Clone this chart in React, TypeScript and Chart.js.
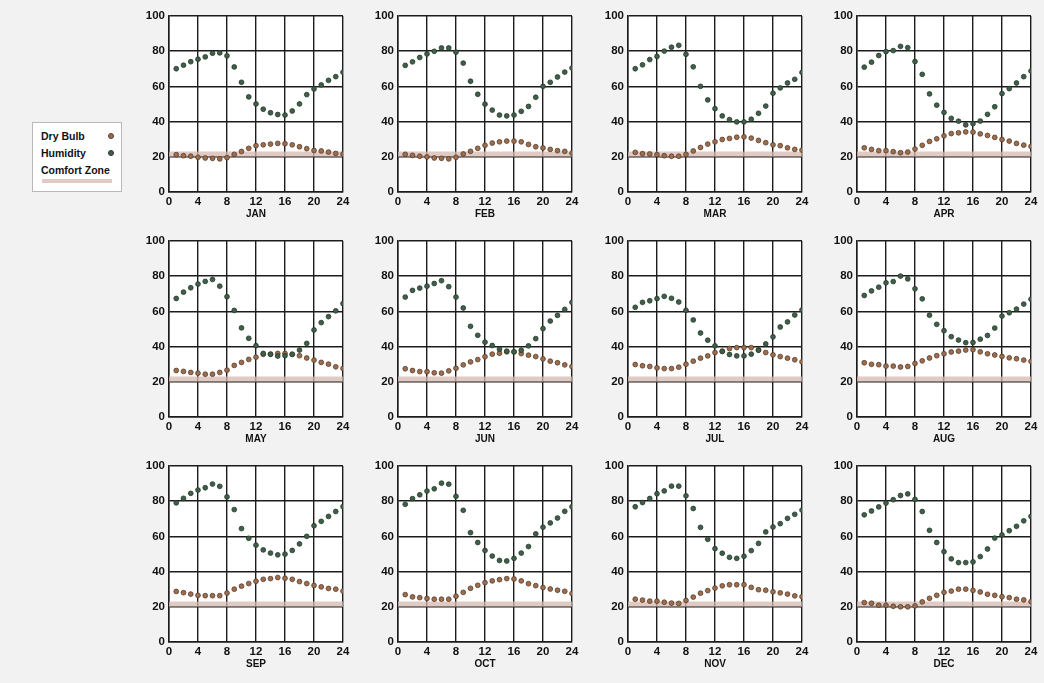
import React, { useEffect, useRef } from "react";
import { Chart, registerables } from "chart.js";

Chart.register(...registerables);

// ---------- data ----------
const HOURS = [1, 2, 3, 4, 5, 6, 7, 8, 9, 10, 11, 12, 13, 14, 15, 16, 17, 18, 19, 20, 21, 22, 23, 24];
const X_TICKS = [0, 4, 8, 12, 16, 20, 24];
const Y_TICKS = [0, 20, 40, 60, 80, 100];
const COMFORT_LOW = 20;
const COMFORT_HIGH = 23;

const janHumidity = [70, 72, 74, 75.4, 76.7, 78.8, 79, 77.3, 71, 62.3, 54, 50, 47, 45, 44, 43.7, 46, 50, 55.3, 58.5, 60.8, 63.4, 65.5, 68];
const janDryBulb = [21.2, 20.6, 20.3, 19.7, 19.3, 19.1, 18.8, 19.5, 21.4, 23, 24.8, 26.3, 26.8, 27.2, 27.6, 27.4, 26.8, 25.7, 24.6, 23.6, 23.3, 22.7, 21.9, 21.6];

const febHumidity = [71.9, 73.9, 76.4, 78.4, 79.9, 81.8, 81.8, 79.4, 73.2, 62.9, 55.5, 49.9, 46.5, 43.7, 43.2, 43.7, 45.8, 48.6, 53.8, 60, 62.3, 65.3, 68.1, 70.4];
const febDryBulb = [21.4, 20.8, 20.3, 19.9, 19.3, 19.1, 18.8, 19.7, 21.6, 23.1, 24.8, 26.5, 27.8, 28.5, 28.9, 28.9, 28.5, 27, 25.7, 25, 24.2, 23.5, 23.1, 22.1];

const marHumidity = [70, 72.2, 75.2, 77, 80, 82.2, 83.3, 78.2, 71.1, 60, 52.3, 47.3, 43.2, 41.1, 39.8, 39.8, 41.3, 44.7, 48.8, 56.1, 59.1, 61.9, 64, 67.9];
const marDryBulb = [22.5, 21.8, 21.6, 21.2, 20.6, 20.3, 20.3, 21.4, 23.3, 25.3, 27.2, 28.5, 29.8, 30.4, 31.1, 31.3, 30.6, 29.3, 28, 26.8, 26.3, 25.1, 24.2, 23.8];

const aprHumidity = [70.9, 73.7, 77.5, 79.7, 80.3, 82.7, 82, 74.1, 66.8, 55.7, 49.3, 45.2, 41.8, 40.2, 38.1, 38.8, 40.3, 44.1, 48.4, 55.9, 58.7, 61.9, 65.5, 68.7];
const aprDryBulb = [25.1, 24.2, 23.5, 23.5, 22.9, 22.3, 22.7, 24.4, 26.5, 28.7, 30.2, 31.9, 33.2, 33.6, 34.1, 34, 33, 32.1, 31, 29.8, 28.9, 27.6, 26.6, 25.9];

const mayHumidity = [67.3, 70.9, 73.4, 75.5, 77, 78.1, 74.3, 68.3, 60.5, 50.6, 44.7, 40.5, 36.1, 35.6, 34.6, 34.8, 35.6, 38, 41.8, 49.4, 53.6, 57, 60.3, 64.4];
const mayDryBulb = [26.4, 25.9, 25.3, 24.9, 24.3, 24.3, 25.3, 26.6, 29.3, 31, 32.7, 34, 35.6, 35.7, 36.1, 36.1, 35.6, 34.8, 33.5, 32.3, 31, 30, 28.5, 27.6];

const junHumidity = [68.1, 71.9, 73.2, 74.3, 75.8, 77.4, 74, 68.1, 61.9, 51.5, 46.4, 42.5, 40.6, 38.5, 37.4, 37, 37.9, 40.4, 44.5, 50.2, 54.5, 57.7, 61.1, 65.1];
const junDryBulb = [27.4, 26.4, 25.8, 25.7, 25.1, 24.9, 26.2, 27.7, 29.6, 31.3, 32.6, 34.2, 35.7, 36.2, 37, 37, 36, 35.1, 34.3, 33, 31.7, 30.8, 29.6, 28.7];

const julHumidity = [62.3, 65.1, 66, 67.2, 68.5, 67.4, 65.3, 60.6, 55.1, 47.7, 43.6, 40.4, 37.2, 35.5, 34.7, 34.7, 35.7, 37.9, 41.5, 45.5, 51.1, 54, 57.9, 60.8];
const julDryBulb = [29.8, 29.1, 28.7, 27.9, 27.5, 27.5, 28.3, 30, 31.7, 33.4, 34.7, 36.6, 37.4, 38.9, 39.4, 39.4, 39.4, 38.1, 36.6, 35.3, 34.3, 33.4, 32.5, 31.3];

const augHumidity = [69, 71.6, 73.7, 76.2, 76.9, 80, 78.4, 72.8, 67.1, 57.8, 52.6, 49, 45.6, 43.7, 42.2, 42.3, 44.2, 46.3, 50.5, 57.3, 59.2, 61.3, 64.1, 66.9];
const augDryBulb = [30.8, 29.9, 29.7, 28.9, 28.9, 28.4, 28.7, 30.4, 31.9, 33.5, 34.8, 35.9, 36.9, 37.4, 38, 38.2, 37, 35.9, 35.2, 34.4, 33.6, 33.1, 32.3, 31.6];

const sepHumidity = [79, 81.6, 84.4, 86.3, 87.6, 89.7, 88.4, 82.4, 75.2, 64.4, 58.9, 55, 52.3, 50.5, 49.5, 49.9, 52, 55.7, 60, 66, 68.5, 71.3, 74.1, 76.9];
const sepDryBulb = [28.7, 28, 27.2, 26.5, 26.3, 26.3, 26.3, 27.8, 30, 31.7, 33.2, 34.5, 35.6, 36, 36.6, 36.2, 35.6, 34.3, 33.2, 32.1, 31.3, 30.4, 30, 28.9];

const octHumidity = [78.2, 81.4, 83.6, 85.7, 87, 90.2, 89.6, 82.7, 74.8, 62.1, 56.5, 52, 48.8, 46.3, 46, 47.5, 50.5, 54.2, 61.4, 65.2, 67.6, 70.4, 74.2, 76.8];
const octDryBulb = [26.9, 25.6, 25.2, 24.7, 24.3, 24.3, 24.3, 26, 28.2, 30.5, 32.2, 33.7, 34.7, 35.4, 36, 35.8, 34.7, 33.1, 32, 30.9, 30.1, 29.4, 28.8, 27.5];

const novHumidity = [76.8, 79.2, 81.5, 84.2, 85.8, 88.5, 88.5, 83, 75.8, 65.1, 58.3, 53, 50.4, 48.1, 47.5, 48.7, 51.9, 56, 62.5, 65.3, 67.2, 70.2, 72.5, 74.9];
const novDryBulb = [24.3, 23.8, 23.2, 23.2, 22.6, 22.1, 21.9, 23.6, 25.5, 27.7, 29.2, 30.6, 31.9, 32.5, 32.5, 32.5, 31, 29.7, 29.4, 28.5, 27.9, 27.2, 26.2, 25.7];

const decHumidity = [72.2, 74.4, 76.7, 78.9, 80.8, 83.2, 84.1, 81, 74.1, 63.4, 56.5, 51.3, 47.2, 45.1, 45.1, 45.5, 48.5, 52.8, 59, 60.8, 63.2, 65.7, 68.8, 71.3];
const decDryBulb = [22.4, 22, 20.9, 20.9, 20.3, 20, 20, 20.5, 22.8, 24.8, 26.5, 28.2, 28.9, 30, 30, 29.3, 28.4, 27.1, 26.5, 25.7, 25.2, 24.3, 23.9, 22.9];

const MONTHS = ["JAN", "FEB", "MAR", "APR", "MAY", "JUN", "JUL", "AUG", "SEP", "OCT", "NOV", "DEC"];
const HUMIDITY = [janHumidity, febHumidity, marHumidity, aprHumidity, mayHumidity, junHumidity, julHumidity, augHumidity, sepHumidity, octHumidity, novHumidity, decHumidity];
const DRY_BULB = [janDryBulb, febDryBulb, marDryBulb, aprDryBulb, mayDryBulb, junDryBulb, julDryBulb, augDryBulb, sepDryBulb, octDryBulb, novDryBulb, decDryBulb];

// ---------- layout ----------
const COL_LEFTS = [169, 398, 628, 857];
const ROW_TOPS = [15, 240, 465];
const PLOT_W = 174;
const PLOT_H = 177;
const AXIS_W = 40;
const AXIS_H = 30;
const PAD_T = 10;
const PAD_R = 12;

const FONT = "'Liberation Sans', Arial, sans-serif";
const GRID = "#1c1c1c";
const HUM_COLOR = "#3f5f49";
const HUM_EDGE = "#24382a";
const DRY_COLOR = "#9a6e4e";
const DRY_EDGE = "#5a3b28";
const BAND_COLOR = "rgba(214, 184, 176, 0.75)";

const whiteArea = {
  id: "whiteArea",
  beforeDraw(chart: any) {
    const { ctx, chartArea } = chart;
    ctx.save();
    ctx.fillStyle = "#ffffff";
    ctx.fillRect(chartArea.left, chartArea.top, chartArea.right - chartArea.left, chartArea.bottom - chartArea.top);
    ctx.restore();
  },
};

function Panel({ month, hum, dry, left, top }: { month: string; hum: number[]; dry: number[]; left: number; top: number }) {
  const ref = useRef<HTMLCanvasElement | null>(null);
  useEffect(() => {
    if (!ref.current) return;
    const xMin = X_TICKS[0];
    const xMax = X_TICKS[X_TICKS.length - 1];
    const chart = new Chart(ref.current, {
      type: "scatter",
      data: {
        datasets: [
          {
            label: "Humidity",
            data: HOURS.map((h, i) => ({ x: h, y: hum[i] })),
            backgroundColor: HUM_COLOR,
            borderColor: HUM_EDGE,
            borderWidth: 0.8,
            pointRadius: 2.4,
          },
          {
            label: "Dry Bulb",
            data: HOURS.map((h, i) => ({ x: h, y: dry[i] })),
            backgroundColor: DRY_COLOR,
            borderColor: DRY_EDGE,
            borderWidth: 0.8,
            pointRadius: 2.4,
          },
          {
            type: "line",
            label: "comfortLow",
            data: [{ x: xMin, y: COMFORT_LOW }, { x: xMax, y: COMFORT_LOW }],
            showLine: true,
            borderWidth: 0,
            pointRadius: 0,
            fill: false,
          } as any,
          {
            type: "line",
            label: "Comfort Zone",
            data: [{ x: xMin, y: COMFORT_HIGH }, { x: xMax, y: COMFORT_HIGH }],
            showLine: true,
            borderWidth: 0,
            pointRadius: 0,
            backgroundColor: BAND_COLOR,
            fill: "-1",
          } as any,
        ],
      },
      options: {
        responsive: false,
        animation: false,
        devicePixelRatio: 1,
        layout: { padding: { top: PAD_T, right: PAD_R, left: 0, bottom: 0 } },
        plugins: { legend: { display: false }, tooltip: { enabled: false } },
        scales: {
          x: {
            type: "linear",
            min: xMin,
            max: xMax,
            afterBuildTicks: (s: any) => {
              s.ticks = X_TICKS.map((v) => ({ value: v }));
            },
            afterFit: (s: any) => {
              s.height = AXIS_H;
            },
            grid: { color: GRID, lineWidth: 1.4, drawTicks: false },
            border: { color: GRID, width: 1.5 },
            ticks: { color: "#111", font: { family: FONT, size: 11.5, weight: "bold" }, padding: 3, maxRotation: 0, autoSkip: false },
            title: { display: true, text: month, color: "#111", font: { family: FONT, size: 10, weight: "bold" }, padding: { top: 0, bottom: 2 } },
          },
          y: {
            min: Y_TICKS[0],
            max: Y_TICKS[Y_TICKS.length - 1],
            afterBuildTicks: (s: any) => {
              s.ticks = Y_TICKS.map((v) => ({ value: v }));
            },
            afterFit: (s: any) => {
              s.width = AXIS_W;
            },
            grid: { color: GRID, lineWidth: 1.4, drawTicks: false },
            border: { color: GRID, width: 1.5 },
            ticks: { color: "#111", font: { family: FONT, size: 11.5, weight: "bold" }, padding: 4 },
          },
        },
      } as any,
      plugins: [whiteArea],
    });
    return () => chart.destroy();
  }, [month, hum, dry]);

  const w = AXIS_W + PLOT_W + PAD_R;
  const h = PAD_T + PLOT_H + AXIS_H;
  return (
    <canvas
      ref={ref}
      width={w}
      height={h}
      style={{ position: "absolute", left: left - AXIS_W, top: top - PAD_T, width: w, height: h }}
    />
  );
}

function Legend() {
  const item: React.CSSProperties = {
    position: "absolute",
    left: 8,
    fontFamily: FONT,
    fontWeight: "bold",
    fontSize: 10.5,
    color: "#111",
    lineHeight: "12px",
    whiteSpace: "nowrap",
  };
  const dot = (color: string, edge: string, y: number): React.CSSProperties => ({
    position: "absolute",
    left: 75,
    top: y - 3,
    width: 4,
    height: 4,
    borderRadius: "50%",
    background: color,
    border: `0.8px solid ${edge}`,
  });
  return (
    <div
      style={{
        position: "absolute",
        left: 32,
        top: 122,
        width: 88,
        height: 68,
        background: "#ffffff",
        border: "1px solid #b9b9b9",
      }}
    >
      <div style={{ ...item, top: 7 }}>Dry Bulb</div>
      <div style={dot(DRY_COLOR, DRY_EDGE, 13)} />
      <div style={{ ...item, top: 24 }}>Humidity</div>
      <div style={dot(HUM_COLOR, HUM_EDGE, 30)} />
      <div style={{ ...item, top: 41 }}>Comfort Zone</div>
      <div style={{ position: "absolute", left: 9, top: 56, width: 70, height: 4, background: BAND_COLOR }} />
    </div>
  );
}

export default function App() {
  return (
    <div style={{ position: "fixed", left: 0, top: 0, width: 1044, height: 683, background: "#f2f2f2", overflow: "hidden" }}>
      {MONTHS.map((m, i) => (
        <Panel
          key={m}
          month={m}
          hum={HUMIDITY[i]}
          dry={DRY_BULB[i]}
          left={COL_LEFTS[i % 4]}
          top={ROW_TOPS[Math.floor(i / 4)]}
        />
      ))}
      <Legend />
    </div>
  );
}
